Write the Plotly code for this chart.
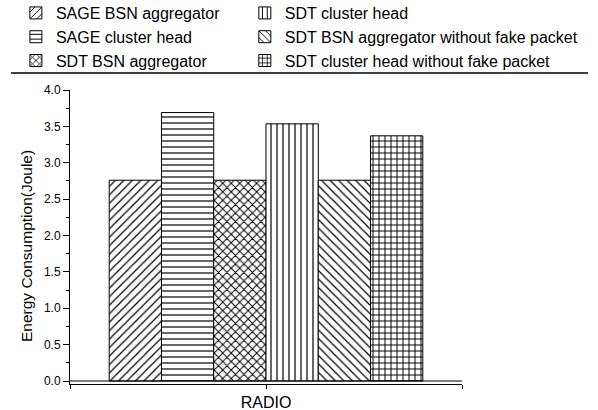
import plotly.graph_objects as go

categories = ["RADIO"]
series_names = [
    "SAGE BSN aggregator",
    "SAGE cluster head",
    "SDT BSN aggregator",
    "SDT cluster head",
    "SDT BSN aggregator without fake packet",
    "SDT cluster head without fake packet",
]
series_values = [
    [2.76],
    [3.69],
    [2.76],
    [3.535],
    [2.76],
    [3.37],
]
patterns = ["/", "-", "x", "|", "\\", "+"]
legend_ids = ["legend", "legend", "legend", "legend2", "legend2", "legend2"]
y_ticks = [0.0, 0.5, 1.0, 1.5, 2.0, 2.5, 3.0, 3.5, 4.0]

FONT = "Liberation Sans, Arial, sans-serif"
positions = list(range(len(categories)))

fig = go.Figure()
for name, vals, pat, lg in zip(series_names, series_values, patterns, legend_ids):
    fig.add_trace(go.Bar(
        name=name,
        x=positions,
        y=vals,
        legend=lg,
        marker=dict(
            color="white",
            line=dict(color="black", width=1),
            pattern=dict(shape=pat, fgcolor="black", bgcolor="white",
                         size=6, solidity=0.2 if pat not in ("x", "+") else 0.3,
                         fillmode="replace"),
        ),
    ))

LEG_FONT = dict(size=16, family=FONT, color="black")
fig.update_layout(
    width=598, height=410,
    margin=dict(l=70, r=136, t=90, b=26, autoexpand=False),
    paper_bgcolor="white", plot_bgcolor="white",
    barmode="group", bargap=0.2, bargroupgap=0,
    font=dict(family=FONT, color="black", size=12),
    legend=dict(x=-0.138, y=1.3197, xanchor="left", yanchor="top",
                font=LEG_FONT, bgcolor="rgba(0,0,0,0)", borderwidth=0,
                orientation="v"),
    legend2=dict(x=0.446, y=1.3197, xanchor="left", yanchor="top",
                 font=LEG_FONT, bgcolor="rgba(0,0,0,0)", borderwidth=0,
                 orientation="v"),
    xaxis=dict(
        range=[-0.5, 0.5],
        tickvals=[-0.5] + positions + [0.5],
        ticktext=[""] + categories + [""],
        ticks="outside", ticklen=4, tickcolor="black", tickwidth=1,
        showline=True, linecolor="black", linewidth=1,
        showgrid=False, zeroline=False, automargin=False,
        tickfont=dict(size=16, family=FONT, color="black"),
    ),
    yaxis=dict(
        range=[-0.0412, 4.0],
        tickvals=y_ticks,
        tickformat=".1f",
        ticks="outside", ticklen=6, tickcolor="black", tickwidth=1,
        minor=dict(dtick=0.25, tick0=0, ticks="outside", ticklen=3,
                   tickcolor="black", tickwidth=1, showgrid=False),
        showline=True, linecolor="black", linewidth=1,
        showgrid=False, zeroline=False, automargin=False,
        tickfont=dict(size=12, family=FONT, color="black"),
    ),
)

# baseline at y = 0
fig.add_shape(type="line", xref="paper", yref="y", x0=0, x1=1, y0=0, y1=0,
              line=dict(color="black", width=1))
# separator under the legend
fig.add_shape(type="line", xref="paper", yref="paper", x0=-0.1505, x1=1.3214,
              y0=1.0578, y1=1.0578, line=dict(color="black", width=1.5))

fig.add_annotation(text="Energy Consumption(Joule)", xref="paper", yref="paper",
                   x=-0.1097, y=0.4694, textangle=-90, showarrow=False,
                   font=dict(size=15.5, family=FONT, color="black"),
                   xanchor="center", yanchor="middle")

fig.write_html("out.html")
